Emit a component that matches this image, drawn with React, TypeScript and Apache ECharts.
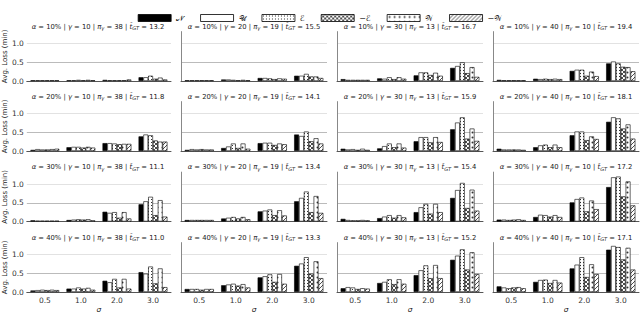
import React, { useEffect, useRef } from "react";
import * as echarts from "echarts";

const categories = ["0.5", "1.0", "2.0", "3.0"];
const seriesNames = ["𝒩", "𝒰", "ℰ", "−ℰ", "𝒲", "−𝒲"];
const alphaLabels = ["10%", "20%", "30%", "40%"];
const gammaLabels = ["10", "20", "30", "40"];
const piGamma = ["38", "19", "13", "10"];
const tGT = [
  ["13.2", "15.5", "16.7", "19.4"],
  ["11.8", "14.1", "15.9", "18.1"],
  ["11.1", "13.4", "15.4", "17.2"],
  ["11.0", "13.3", "15.2", "17.1"],
];
const yTicks = [0, 0.5, 1.0];

// each panel: rows = series (N, U, E, -E, W, -W), columns = sigma categories
const a10g10 = [
  [0.02, 0.02, 0.03, 0.1],
  [0.02, 0.02, 0.02, 0.1],
  [0.02, 0.03, 0.02, 0.14],
  [0.02, 0.02, 0.02, 0.06],
  [0.02, 0.03, 0.02, 0.09],
  [0.02, 0.02, 0.04, 0.04],
];
const a10g20 = [
  [0.02, 0.04, 0.08, 0.14],
  [0.02, 0.04, 0.08, 0.14],
  [0.02, 0.03, 0.07, 0.19],
  [0.02, 0.02, 0.05, 0.12],
  [0.02, 0.03, 0.07, 0.12],
  [0.02, 0.02, 0.06, 0.08],
];
const a10g30 = [
  [0.05, 0.07, 0.15, 0.35],
  [0.03, 0.06, 0.23, 0.4],
  [0.03, 0.1, 0.23, 0.5],
  [0.03, 0.05, 0.16, 0.21],
  [0.03, 0.1, 0.22, 0.37],
  [0.03, 0.06, 0.14, 0.11],
];
const a10g40 = [
  [0.03, 0.06, 0.27, 0.47],
  [0.02, 0.05, 0.3, 0.52],
  [0.02, 0.06, 0.3, 0.47],
  [0.02, 0.05, 0.14, 0.38],
  [0.02, 0.06, 0.25, 0.37],
  [0.02, 0.05, 0.13, 0.26],
];
const a20g10 = [
  [0.03, 0.1, 0.21, 0.39],
  [0.05, 0.11, 0.21, 0.44],
  [0.04, 0.11, 0.2, 0.42],
  [0.04, 0.09, 0.18, 0.28],
  [0.05, 0.11, 0.19, 0.25],
  [0.06, 0.09, 0.19, 0.25],
];
const a20g20 = [
  [0.03, 0.08, 0.21, 0.44],
  [0.05, 0.12, 0.22, 0.4],
  [0.04, 0.2, 0.22, 0.52],
  [0.05, 0.08, 0.16, 0.26],
  [0.04, 0.2, 0.2, 0.34],
  [0.04, 0.06, 0.18, 0.2],
];
const a20g30 = [
  [0.06, 0.07, 0.26, 0.58],
  [0.04, 0.13, 0.37, 0.76],
  [0.05, 0.2, 0.37, 0.9],
  [0.03, 0.1, 0.23, 0.33],
  [0.06, 0.2, 0.37, 0.6],
  [0.03, 0.09, 0.24, 0.27],
];
const a20g40 = [
  [0.06, 0.1, 0.42, 0.78],
  [0.04, 0.15, 0.52, 0.9],
  [0.04, 0.17, 0.52, 0.87],
  [0.04, 0.1, 0.29, 0.6],
  [0.04, 0.17, 0.39, 0.71],
  [0.03, 0.1, 0.32, 0.33],
];
const a30g10 = [
  [0.03, 0.04, 0.26, 0.46],
  [0.02, 0.05, 0.23, 0.54],
  [0.02, 0.06, 0.25, 0.66],
  [0.02, 0.05, 0.1, 0.17],
  [0.02, 0.06, 0.25, 0.57],
  [0.02, 0.03, 0.08, 0.13],
];
const a30g20 = [
  [0.04, 0.08, 0.27, 0.54],
  [0.04, 0.1, 0.29, 0.63],
  [0.04, 0.12, 0.32, 0.8],
  [0.04, 0.08, 0.17, 0.25],
  [0.04, 0.12, 0.3, 0.68],
  [0.04, 0.06, 0.16, 0.23],
];
const a30g30 = [
  [0.07, 0.09, 0.25, 0.63],
  [0.04, 0.13, 0.38, 0.84],
  [0.03, 0.17, 0.47, 1.03],
  [0.03, 0.1, 0.21, 0.36],
  [0.04, 0.17, 0.47, 0.85],
  [0.03, 0.11, 0.25, 0.29],
];
const a30g40 = [
  [0.05, 0.12, 0.51, 0.92],
  [0.05, 0.18, 0.6, 1.18],
  [0.04, 0.17, 0.64, 1.2],
  [0.05, 0.13, 0.27, 0.67],
  [0.06, 0.17, 0.56, 1.07],
  [0.04, 0.12, 0.33, 0.43],
];
const a40g10 = [
  [0.04, 0.09, 0.3, 0.53],
  [0.05, 0.09, 0.26, 0.49],
  [0.06, 0.12, 0.35, 0.68],
  [0.05, 0.09, 0.12, 0.23],
  [0.06, 0.11, 0.35, 0.63],
  [0.05, 0.06, 0.09, 0.13],
];
const a40g20 = [
  [0.08, 0.18, 0.39, 0.7],
  [0.08, 0.2, 0.42, 0.76],
  [0.08, 0.22, 0.47, 0.93],
  [0.06, 0.17, 0.27, 0.49],
  [0.08, 0.21, 0.48, 0.82],
  [0.08, 0.12, 0.22, 0.37],
];
const a40g30 = [
  [0.1, 0.24, 0.45, 0.86],
  [0.13, 0.27, 0.58, 0.97],
  [0.12, 0.34, 0.71, 1.14],
  [0.08, 0.21, 0.37, 0.6],
  [0.1, 0.34, 0.72, 1.06],
  [0.09, 0.22, 0.37, 0.48],
];
const a40g40 = [
  [0.15, 0.27, 0.63, 1.13],
  [0.12, 0.32, 0.73, 1.23],
  [0.1, 0.33, 0.93, 1.2],
  [0.12, 0.24, 0.4, 0.87],
  [0.13, 0.32, 0.74, 1.18],
  [0.1, 0.25, 0.48, 0.6],
];

const panels = [
  [a10g10, a10g20, a10g30, a10g40],
  [a20g10, a20g20, a20g30, a20g40],
  [a30g10, a30g20, a30g30, a30g40],
  [a40g10, a40g20, a40g30, a40g40],
];

const FONT = "DejaVu Sans";
const colLeft = [25, 181, 337, 493];
const plotW = 146;
const rowBottom = [81, 151, 221.5, 292];
const Y_MAX = 1.32;
const plotH = 49.4;

function makePattern(kind: string) {
  let w = 4;
  let h = 4;
  if (kind === "dots") { w = 3; h = 3; }
  if (kind === "circles") { w = 5; h = 5; }
  const c = document.createElement("canvas");
  c.width = w;
  c.height = h;
  const ctx = c.getContext("2d")!;
  ctx.fillStyle = "#fff";
  ctx.fillRect(0, 0, w, h);
  ctx.strokeStyle = "#222";
  ctx.fillStyle = "#333";
  ctx.lineWidth = 0.8;
  if (kind === "dots") {
    ctx.fillRect(1, 1, 1, 1);
  } else if (kind === "cross") {
    ctx.beginPath();
    ctx.moveTo(0, 0); ctx.lineTo(w, h);
    ctx.moveTo(0, h); ctx.lineTo(w, 0);
    ctx.stroke();
  } else if (kind === "circles") {
    ctx.beginPath();
    ctx.arc(2.5, 2.5, 1, 0, Math.PI * 2);
    ctx.fill();
  } else if (kind === "diag") {
    ctx.beginPath();
    ctx.moveTo(0, h); ctx.lineTo(w, 0);
    ctx.moveTo(-1, 1); ctx.lineTo(1, -1);
    ctx.moveTo(w - 1, h + 1); ctx.lineTo(w + 1, h - 1);
    ctx.stroke();
  }
  return { image: c.toDataURL(), repeat: "repeat", imageWidth: w, imageHeight: h };
}

export default function App() {
  const ref = useRef<HTMLDivElement>(null);
  useEffect(() => {
    document.body.style.margin = "0";
    const chart = echarts.init(ref.current!, null, { renderer: "svg" });
    const fills: any[] = [
      "#000",
      "#fff",
      makePattern("dots"),
      makePattern("cross"),
      makePattern("circles"),
      makePattern("diag"),
    ];
    const grid: any[] = [];
    const xAxis: any[] = [];
    const yAxis: any[] = [];
    const series: any[] = [];
    const graphic: any[] = [];
    for (let r = 0; r < 4; r++) {
      for (let c = 0; c < 4; c++) {
        const idx = r * 4 + c;
        grid.push({
          left: colLeft[c],
          top: rowBottom[r] - plotH,
          width: plotW,
          height: plotH,
        });
        xAxis.push({
          type: "category",
          gridIndex: idx,
          data: categories,
          axisTick: { show: false },
          axisLine: { show: true, lineStyle: { color: "#555", width: 1 } },
          axisLabel: { show: r === 3, fontSize: 7.5, color: "#333", margin: 4, fontFamily: FONT },
          name: r === 3 ? "σ" : "",
          nameLocation: "middle",
          nameGap: 13,
          nameTextStyle: { fontSize: 7.5, fontStyle: "italic", color: "#222", fontFamily: FONT },
        });
        yAxis.push({
          type: "value",
          gridIndex: idx,
          min: 0,
          max: Y_MAX,
          interval: 0.5,
          axisTick: { show: false },
          axisLine: { show: c > 0, lineStyle: { color: "#888", width: 1 } },
          axisLabel: {
            show: c === 0,
            fontSize: 7.5,
            color: "#333",
            margin: 3,
            fontFamily: FONT,
            formatter: (v: number) => (yTicks.includes(v) ? v.toFixed(1) : ""),
          },
          splitLine: {
            show: true,
            lineStyle: { color: ["#999", "#bbb", "#e2e2e2", "rgba(0,0,0,0)"], width: 1 },
          },
          name: c === 0 ? "Avg. Loss (min)" : "",
          nameLocation: "middle",
          nameGap: 17,
          nameRotate: 90,
          nameTextStyle: { fontSize: 7, color: "#222", fontFamily: FONT },
        });
        const data = panels[r][c];
        for (let s = 0; s < 6; s++) {
          series.push({
            type: "bar",
            name: seriesNames[s],
            xAxisIndex: idx,
            yAxisIndex: idx,
            data: data[s],
            barGap: "0%",
            barCategoryGap: "20%",
            itemStyle: { color: fills[s], borderColor: "#000", borderWidth: 0.6 },
            emphasis: { disabled: true },
          });
        }
        graphic.push({
          type: "text",
          x: colLeft[c] + plotW / 2,
          y: rowBottom[r] - plotH - 5,
          style: {
            text:
              "{m|α} = " + alphaLabels[r] + " | {m|γ} = " + gammaLabels[c] +
              " | {m|π}{s|γ} = " + piGamma[c] + " | {m|t̂}{s|GT} = " + tGT[r][c],
            align: "center",
            verticalAlign: "middle",
            fontSize: 6.8,
            fontFamily: FONT,
            fill: "#222",
            rich: {
              m: { fontSize: 6.8, fontStyle: "italic", fontFamily: FONT, fill: "#222" },
              s: { fontSize: 5, fontStyle: "italic", fontFamily: FONT, fill: "#222", padding: [3, 0, 0, 0] },
            },
          },
        });
      }
    }
    chart.setOption({
      animation: false,
      backgroundColor: "#fff",
      legend: {
        data: seriesNames,
        top: 9,
        left: "center",
        icon: "rect",
        itemWidth: 33,
        itemHeight: 7,
        itemGap: 16,
        itemStyle: { borderColor: "#000", borderWidth: 0.8 },
        textStyle: { fontSize: 8, fontFamily: FONT, color: "#222" },
      },
      grid,
      xAxis,
      yAxis,
      series,
      graphic,
    });
    return () => chart.dispose();
  }, []);
  return <div ref={ref} style={{ width: 640, height: 322 }} />;
}
